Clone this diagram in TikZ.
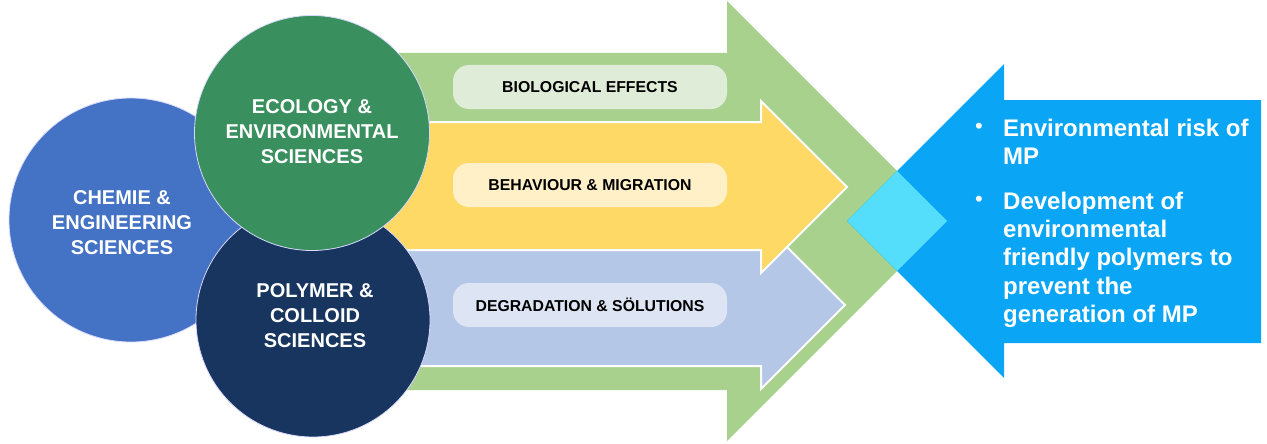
\documentclass[tikz,border=0pt]{standalone}
\usepackage{fontspec}
\setmainfont{Liberation Sans}
\definecolor{garrow}{HTML}{A9D18E}
\definecolor{yarrow}{HTML}{FFD966}
\definecolor{barrow}{HTML}{B4C7E7}
\definecolor{gbox}{HTML}{DFECD7}
\definecolor{ybox}{HTML}{FFF0C7}
\definecolor{bbox}{HTML}{DDE5F4}
\definecolor{bluearrow}{HTML}{0AA6F5}
\definecolor{cyanover}{HTML}{55DEFB}
\definecolor{circblue}{HTML}{4472C4}
\definecolor{circgreen}{HTML}{3A8F5E}
\definecolor{circnavy}{HTML}{17355E}
\tikzset{
  labelbox/.style={rounded corners=16pt, minimum width=274pt, minimum height=44pt, inner sep=0pt,
    font=\fontsize{15.8}{18}\selectfont\bfseries, text=black},
  disc/.style={circle, inner sep=0pt, draw=white!85!blue, line width=0.8pt},
  disctext/.style={align=center, text=white, font=\fontsize{20}{25}\selectfont\bfseries, inner sep=0pt},
  rtext/.style={anchor=base west, text=white, inner sep=0pt, font=\fontsize{24}{28}\selectfont\bfseries},
  bullet/.style={anchor=center, text=white, inner sep=0pt, font=\fontsize{22}{24}\selectfont},
  arrowborder/.style={draw=white, line width=2pt, line join=miter}
}
\begin{document}
\begin{tikzpicture}[x=1pt, y=-1pt]
\useasboundingbox (0,0) rectangle (1267,444);
% big green arrow
\fill[garrow] (330,53) -- (727,53) -- (727,1) -- (947,221) -- (727,441) -- (727,390) -- (330,390) -- cycle;
% light blue arrow
\filldraw[barrow, arrowborder, fill=barrow] (330,246) -- (761,246) -- (761,221) -- (845,305) -- (761,389) -- (761,366) -- (330,366) -- cycle;
% yellow arrow
\filldraw[arrowborder, fill=yarrow] (330,122) -- (761,122) -- (761,101) -- (847,187) -- (761,273) -- (761,250) -- (330,250) -- cycle;
% label boxes
\node[labelbox, fill=gbox] (bio) at (590,87) {BIOLOGICAL EFFECTS};
\node[labelbox, fill=ybox] (beh) at (590,185) {BEHAVIOUR \& MIGRATION};
\node[labelbox, fill=bbox] (deg) at (590,305) {DEGRADATION \& SÖLUTIONS};
% blue left arrow
\fill[bluearrow] (847,221) -- (1004,64) -- (1004,100) -- (1261,100) -- (1261,343) -- (1004,343) -- (1004,378) -- cycle;
% overlap
\begin{scope}
\clip (847,221) -- (1004,64) -- (1004,100) -- (1261,100) -- (1261,343) -- (1004,343) -- (1004,378) -- cycle;
\fill[cyanover] (330,53) -- (727,53) -- (727,1) -- (947,221) -- (727,441) -- (727,390) -- (330,390) -- cycle;
\end{scope}
% circles
\node[disc, fill=circblue, minimum size=244pt] (chem) at (131,220) {};
\node[disc, fill=circnavy, minimum size=234pt] (poly) at (313,320) {};
\node[disc, fill=circgreen, minimum size=235pt] (eco) at (312,133) {};
\node[disctext] (chemt) at (122,223) {CHEMIE \&\\ENGINEERING\\SCIENCES};
\node[disctext] (polyt) at (315,316) {POLYMER \&\\COLLOID\\SCIENCES};
\node[disctext] (ecot) at (312,132) {ECOLOGY \&\\ENVIRONMENTAL\\SCIENCES};
% right text
\node[bullet] (b1) at (979,128) {•};
\node[bullet] (b2) at (979,201) {•};
\node[rtext] (r1) at (1003,136) {Environmental risk of};
\node[rtext] (r2) at (1003,164) {MP};
\node[rtext] (r3) at (1003,209) {Development of};
\node[rtext] (r4) at (1003,237) {environmental};
\node[rtext] (r5) at (1003,265) {friendly polymers to};
\node[rtext] (r6) at (1003,294) {prevent the};
\node[rtext] (r7) at (1003,322) {generation of MP};
\end{tikzpicture}
\end{document}
